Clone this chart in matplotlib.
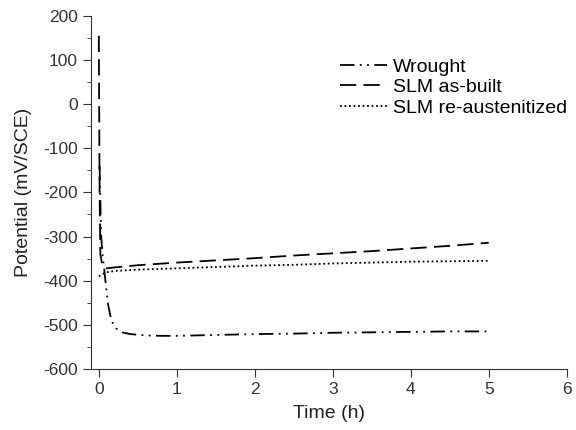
import numpy as np
import matplotlib
matplotlib.use('Agg')
import matplotlib.pyplot as plt
from matplotlib.ticker import MultipleLocator

plt.rcParams['font.family'] = ['Liberation Sans', 'DejaVu Sans']
plt.rcParams['axes.unicode_minus'] = False

# Open circuit potential vs time
t_wrought = [0.01, 0.03, 0.05, 0.07, 0.09, 0.12, 0.16, 0.22, 0.3, 0.4, 0.6,
             0.8, 1.0, 1.5, 2.0, 2.5, 3.0, 3.5, 4.0, 4.5, 5.0]
e_wrought = [-140, -300, -345, -375, -410, -455, -490, -508, -517, -521, -524,
             -525, -525, -523, -521, -520, -518, -517, -516, -515, -515]

t_asbuilt = [0.0, 0.01, 0.02, 0.04, 0.06, 0.1, 0.2, 0.5, 1.0, 1.5, 2.0,
             2.5, 3.0, 3.5, 4.0, 4.5, 5.0]
e_asbuilt = [155, -200, -340, -360, -370, -372, -370, -365, -359, -354, -349,
             -343, -338, -333, -327, -321, -314]

t_reaust = [0.0, 0.05, 0.1, 0.2, 0.3, 0.5, 1.0, 1.5, 2.0, 2.5, 3.0,
            3.5, 4.0, 4.5, 5.0]
e_reaust = [-390, -385, -381, -378, -377, -375, -372, -369, -366, -364, -361,
            -359, -357, -356, -355]

fig = plt.figure(figsize=(5.76, 4.30), dpi=100)
ax = fig.add_axes([0.158, 0.142, 0.826, 0.821])

ax.plot(t_wrought, e_wrought, color='k', lw=1.3, dashes=[8, 3, 1, 3, 1, 3],
        label='Wrought')
ax.plot(t_asbuilt, e_asbuilt, color='k', lw=1.3, dashes=[9, 4],
        label='SLM as-built')
ax.plot(t_reaust, e_reaust, color='k', lw=1.3, dashes=[1, 1.5],
        label='SLM re-austenitized')

ax.set_xlim(-0.1, 6)
ax.set_ylim(-600, 200)
ax.xaxis.set_major_locator(MultipleLocator(1))
ax.yaxis.set_major_locator(MultipleLocator(100))
ax.yaxis.set_minor_locator(MultipleLocator(50))
ax.spines['top'].set_visible(False)
ax.spines['right'].set_visible(False)
for sp in ('left', 'bottom'):
    ax.spines[sp].set_color('#333333')
ax.tick_params(direction='out', labelsize=12.5, colors='#333333', length=6)
ax.tick_params(which='minor', direction='out', length=3, colors='#333333')

ax.set_xlabel('Time (h)', fontsize=14, color='#222222', labelpad=6)
ax.set_ylabel('Potential (mV/SCE)', fontsize=14, color='#222222', labelpad=8)

ax.legend(loc='upper right', bbox_to_anchor=(1.037, 0.93), frameon=False,
          fontsize=14, handlelength=2.4, handletextpad=0.3, labelspacing=0.15)

plt.savefig('out.png', dpi=100)
plt.close()
